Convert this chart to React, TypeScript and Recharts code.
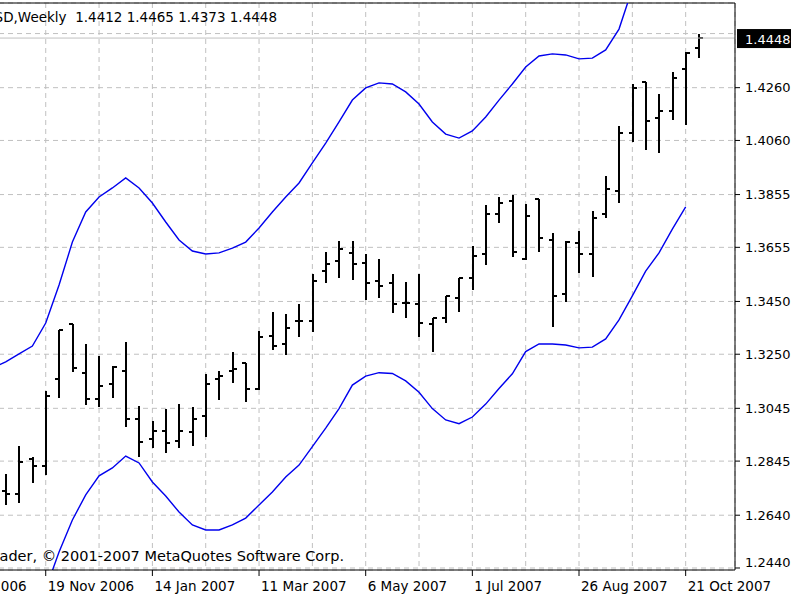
import React from "react";
import {
  Bar,
  CartesianGrid,
  ComposedChart,
  Line,
  ReferenceLine,
  XAxis,
  YAxis,
} from "recharts";

// weekly bars, first entry is 22 Oct 2006 (only the envelope is known there)
const open = [
  null, 1.2732, 1.272, 1.2852, 1.2828, 1.3155, 1.3365, 1.318, 1.3079, 1.3136, 1.3186,
  1.3003, 1.2928, 1.296, 1.2921, 1.2954, 1.3016, 1.3155, 1.3186, 1.3216, 1.3117,
  1.3319, 1.3288, 1.3376, 1.3376, 1.3565, 1.3603, 1.3635, 1.3597, 1.3527, 1.3521,
  1.3445, 1.344, 1.3363, 1.3388, 1.3464, 1.354, 1.3629, 1.378, 1.3832, 1.361,
  1.3838, 1.3684, 1.3477, 1.3673, 1.3629, 1.378, 1.3868, 1.4089, 1.428, 1.4146,
  1.4173, 1.433, 1.4412,
];
const high = [
  null, 1.2796, 1.2903, 1.2859, 1.3112, 1.3342, 1.3365, 1.3289, 1.3244, 1.3207, 1.3295,
  1.3054, 1.2998, 1.3042, 1.3061, 1.3049, 1.3175, 1.3188, 1.3257, 1.3216, 1.3339,
  1.3409, 1.3402, 1.344, 1.3554, 1.3636, 1.368, 1.368, 1.363, 1.3611, 1.3554,
  1.3523, 1.3554, 1.3388, 1.3472, 1.354, 1.3661, 1.3815, 1.3845, 1.3853, 1.3819,
  1.3838, 1.3708, 1.3679, 1.3718, 1.3794, 1.3926, 1.4115, 1.4273, 1.428, 1.4236,
  1.4318, 1.4394, 1.4465,
];
const low = [
  null, 1.2679, 1.2685, 1.2761, 1.2792, 1.3083, 1.3184, 1.3058, 1.3049, 1.3083, 1.2975,
  1.2862, 1.2894, 1.2875, 1.2894, 1.2903, 1.2938, 1.3077, 1.3142, 1.307, 1.3114,
  1.3266, 1.3247, 1.3316, 1.3335, 1.3519, 1.3538, 1.3531, 1.3455, 1.3462, 1.3405,
  1.3388, 1.3316, 1.326, 1.3367, 1.3411, 1.3493, 1.3588, 1.3746, 1.3617, 1.3607,
  1.3638, 1.3354, 1.3449, 1.3557, 1.3544, 1.3765, 1.3822, 1.4055, 1.4024, 1.4011,
  1.4137, 1.4119, 1.4373,
];
const close = [
  null, 1.272, 1.284, 1.2828, 1.3092, 1.3342, 1.3199, 1.3079, 1.313, 1.32, 1.3003,
  1.2919, 1.296, 1.2915, 1.296, 1.3003, 1.3137, 1.3167, 1.3193, 1.3117, 1.3316,
  1.3281, 1.3351, 1.3376, 1.3527, 1.3591, 1.3649, 1.3591, 1.3521, 1.3508, 1.3439,
  1.3445, 1.3369, 1.3388, 1.3471, 1.354, 1.3622, 1.378, 1.3824, 1.3636, 1.3775,
  1.3692, 1.3471, 1.3676, 1.3629, 1.3767, 1.3875, 1.4089, 1.426, 1.4134, 1.4173,
  1.4298, 1.439, 1.4448,
];
const envUpper = [
  1.3198, 1.3221, 1.3251, 1.3281, 1.3368, 1.3512, 1.3675, 1.3789, 1.3846, 1.388, 1.3918,
  1.388, 1.3823, 1.3751, 1.3683, 1.3641, 1.363, 1.3634, 1.3652, 1.3675, 1.3728,
  1.3789, 1.3846, 1.3899, 1.3975, 1.405, 1.413, 1.4213, 1.4259, 1.4278, 1.4274,
  1.4244, 1.4198, 1.413, 1.4084, 1.4069, 1.4096, 1.4149, 1.4213, 1.4274, 1.4338,
  1.438, 1.4388, 1.4384, 1.4369, 1.4372, 1.4403, 1.4482, 1.4635, 1.4715, 1.478,
  1.487, 1.4955, null,
];
const envLower = [
  1.218, 1.2205, 1.2232, 1.226, 1.236, 1.2501, 1.2622, 1.2717, 1.2789, 1.2819, 1.2864,
  1.2838, 1.2766, 1.2713, 1.2652, 1.2603, 1.2584, 1.2584, 1.2603, 1.2629, 1.2679,
  1.2728, 1.2785, 1.283, 1.29, 1.297, 1.3044, 1.3133, 1.3167, 1.318, 1.3177,
  1.3149, 1.3106, 1.3044, 1.3001, 1.2987, 1.3012, 1.3061, 1.312, 1.3176, 1.326,
  1.3289, 1.3289, 1.3285, 1.3274, 1.3277, 1.3308, 1.338, 1.3471, 1.3565, 1.3634,
  1.3724, 1.3808, null,
];

// week numbers counted from 29 Oct 2006
const gridWeeks = [-5, -1, 3, 7, 11, 15, 19, 23, 27, 31, 35, 39, 43, 47, 51];
const dateWeeks = [-5, 3, 11, 19, 27, 35, 43, 51];
const dateLabels = [
  "24 Sep 2006",
  "19 Nov 2006",
  "14 Jan 2007",
  "11 Mar 2007",
  "6 May 2007",
  "1 Jul 2007",
  "26 Aug 2007",
  "21 Oct 2007",
];
const priceTicks = [
  1.244, 1.264, 1.2845, 1.3045, 1.325, 1.345, 1.3655, 1.3855, 1.406, 1.426, 1.4465,
];
const lastPrice = 1.4448;

const data = open.map((o, k) => ({
  week: k - 1,
  open: o,
  high: high[k],
  low: low[k],
  close: close[k],
  upper: envUpper[k],
  lower: envLower[k],
}));

const FONT = "DejaVu Sans";
const Y_MIN = 1.24324;
const Y_MAX = 1.45808;

function OhlcShape(props: any) {
  const { x, y, width, height, payload } = props;
  if (payload.open == null || height == null) return null;
  const cx = Math.round(x + width / 2);
  const span = payload.high - payload.low;
  const yo = Math.round(y + ((payload.high - payload.open) / span) * height);
  const yc = Math.round(y + ((payload.high - payload.close) / span) * height);
  return (
    <g stroke="#000" strokeWidth={2} shapeRendering="crispEdges">
      <line x1={cx} x2={cx} y1={y} y2={y + height} />
      <line x1={cx - 4} x2={cx} y1={yo} y2={yo} />
      <line x1={cx} x2={cx + 4} y1={yc} y2={yc} />
    </g>
  );
}

function DateTick(props: any) {
  const { x, y, payload } = props;
  const k = dateWeeks.indexOf(payload.value);
  if (k < 0) return <g />;
  return (
    <g>
      <line x1={x} x2={x} y1={y - 8} y2={y - 2} stroke="#000" />
      <text
        x={x + 2}
        y={y + 8}
        dominantBaseline="central"
        fontFamily={FONT}
        fontSize={13.5}
        fill="#000"
      >
        {dateLabels[k]}
      </text>
    </g>
  );
}

function PriceTick(props: any) {
  const { x, y, payload } = props;
  if (payload.value === priceTicks[priceTicks.length - 1]) return <g />;
  const dy = payload.value === priceTicks[0] ? -5 : 0;
  return (
    <g>
      <line x1={x - 10} x2={x - 5} y1={y} y2={y} stroke="#000" />
      <text
        x={x}
        y={y + dy}
        dominantBaseline="central"
        fontFamily={FONT}
        fontSize={13}
        fill="#000"
      >
        {payload.value.toFixed(4)}
      </text>
    </g>
  );
}

function PriceBox(props: any) {
  const { viewBox } = props;
  const bx = viewBox.x + viewBox.width + 2;
  const by = viewBox.y;
  return (
    <g>
      <rect x={bx} y={by - 9} width={54} height={19} fill="#000" />
      <text
        x={bx + 8}
        y={by + 1}
        dominantBaseline="central"
        fontFamily={FONT}
        fontSize={13}
        fill="#fff"
      >
        {lastPrice.toFixed(4)}
      </text>
    </g>
  );
}

export default function App() {
  return (
    <div
      style={{
        position: "absolute",
        left: 0,
        top: 0,
        width: 800,
        height: 600,
        overflow: "hidden",
        background: "#fff",
      }}
    >
      <div style={{ position: "absolute", left: -100, top: 0 }}>
        <ComposedChart
          width={900}
          height={600}
          data={data}
          margin={{ top: 3, right: 0, bottom: 0, left: 0 }}
        >
          <CartesianGrid stroke="#c0c0c0" strokeDasharray="5 4" />
          <XAxis
            type="number"
            dataKey="week"
            domain={[-7.93, 54.7]}
            allowDataOverflow
            ticks={gridWeeks}
            interval={0}
            height={30}
            tickSize={6}
            tickMargin={2}
            tickLine={false}
            axisLine={{ stroke: "#000" }}
            tick={<DateTick />}
          />
          <YAxis
            orientation="right"
            type="number"
            domain={[Y_MIN, Y_MAX]}
            allowDataOverflow
            ticks={priceTicks}
            interval={0}
            width={65}
            tickSize={5}
            tickMargin={5}
            tickLine={false}
            axisLine={{ stroke: "#000" }}
            tick={<PriceTick />}
          />
          <ReferenceLine y={Y_MAX} stroke="#000" />
          <ReferenceLine y={lastPrice} stroke="#c0c0c0" label={<PriceBox />} />
          <Bar
            dataKey={(d: any) => (d.high == null ? null : [d.low, d.high])}
            barSize={4}
            shape={<OhlcShape />}
            isAnimationActive={false}
          />
          <Line
            dataKey="upper"
            type="linear"
            stroke="#0000ee"
            strokeWidth={1.4}
            dot={false}
            isAnimationActive={false}
          />
          <Line
            dataKey="lower"
            type="linear"
            stroke="#0000ee"
            strokeWidth={1.4}
            dot={false}
            isAnimationActive={false}
          />
        </ComposedChart>
      </div>
      <div
        style={{
          position: "absolute",
          right: 800 - 277,
          top: 9,
          fontFamily: FONT,
          fontSize: 13.5,
          lineHeight: "16px",
          whiteSpace: "pre",
          color: "#000",
        }}
      >
        {"EURUSD,Weekly  1.4412 1.4465 1.4373 1.4448"}
      </div>
      <div
        style={{
          position: "absolute",
          right: 800 - 344,
          top: 548,
          fontFamily: FONT,
          fontSize: 14.5,
          lineHeight: "17px",
          whiteSpace: "pre",
          color: "#000",
        }}
      >
        {"MetaTrader, © 2001-2007 MetaQuotes Software Corp."}
      </div>
    </div>
  );
}
